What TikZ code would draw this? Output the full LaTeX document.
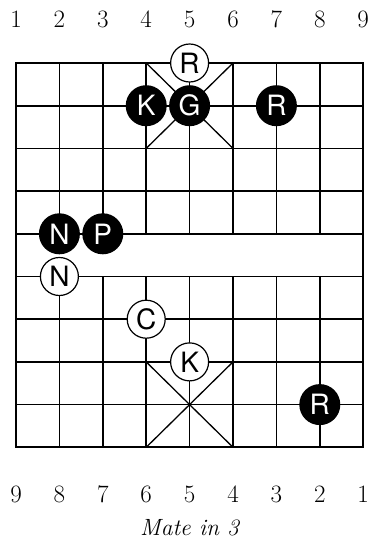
\documentclass[tikz,border=0pt]{standalone}
\usepackage{fontspec}
\newfontfamily\piecefont{TeX Gyre Heros}
\usetikzlibrary{positioning}

\begin{document}
\begin{tikzpicture}[x=43.4pt, y=-42.7pt,
    boardline/.style={line width=1.7pt},
    palace/.style={line width=1.3pt},
    whitepiece/.style={circle, draw, line width=1.2pt, fill=white, minimum size=38pt,
        inner sep=0pt, font=\piecefont\fontsize{28}{28}\selectfont},
    blackpiece/.style={circle, fill=black, text=white, minimum size=41pt,
        inner sep=0pt, font=\piecefont\fontsize{28}{28}\selectfont},
    filenum/.style={font=\fontsize{25}{25}\selectfont}]
    \useasboundingbox (-0.3687,-1.4754) rectangle (8.2028,11.1710);
    % board
    \draw[boardline] (0,0) rectangle (8,9);
    \foreach \r in {1,...,8}
        \draw[boardline] (0,\r) -- (8,\r);
    \foreach \c in {1,...,7} {
        \draw[boardline] (\c,0) -- (\c,4);
        \draw[boardline] (\c,5) -- (\c,9);
    }
    % palaces
    \draw[palace] (3,0) -- (5,2) (5,0) -- (3,2);
    \draw[palace] (3,7) -- (5,9) (5,7) -- (3,9);
    % file numbers
    \foreach \c in {1,...,9} {
        \node[filenum] (top\c) at (\c-1,-1.02) {\c};
        \pgfmathtruncatemacro{\d}{10-\c}
        \node[filenum] (bot\c) at (\c-1,10.1) {\d};
    }
    \node[font=\itshape\fontsize{23.5}{23.5}\selectfont] (caption) at (4,10.88) {Mate in 3};
    % pieces
    \node[whitepiece] (wR) at (4,0) {R};
    \node[blackpiece] (bK) at (3,1) {K};
    \node[blackpiece] (bG) at (4,1) {G};
    \node[blackpiece] (bRa) at (6,1) {R};
    \node[blackpiece] (bN) at (1,4) {N};
    \node[blackpiece] (bP) at (2,4) {P};
    \node[whitepiece] (wN) at (1,5) {N};
    \node[whitepiece] (wC) at (3,6) {C};
    \node[whitepiece] (wK) at (4,7) {K};
    \node[blackpiece] (bRb) at (7,8) {R};
\end{tikzpicture}
\end{document}
